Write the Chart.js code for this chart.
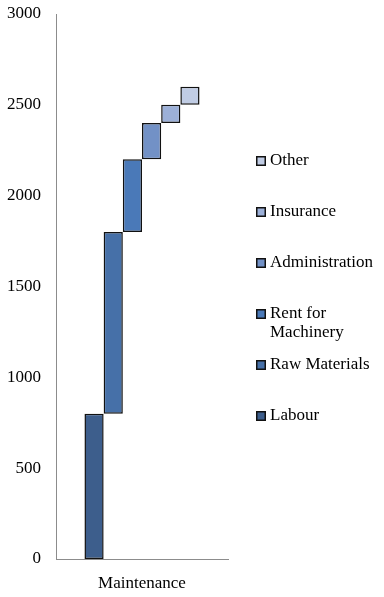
<!DOCTYPE html>
<html>
<head>
<meta charset="utf-8">
<script src="https://cdn.jsdelivr.net/npm/chart.js@4/dist/chart.umd.min.js"></script>
<style>
  html, body { margin: 0; padding: 0; background: #fff; }
  #wrap { width: 384px; height: 597px; }
</style>
</head>
<body>
<div id="wrap"><canvas id="costChart" width="384" height="597"></canvas></div>
<script>
// data
const categories = ['Maintenance'];
const seriesNames = ['Labour', 'Raw Materials', 'Rent for Machinery', 'Administration', 'Insurance', 'Other'];
const seriesStart = [0, 800, 1800, 2200, 2400, 2500];
const seriesEnd = [800, 1800, 2200, 2400, 2500, 2600];
const yTicks = [0, 500, 1000, 1500, 2000, 2500, 3000];

const colours = ['#3d5e8c', '#4670a8', '#4a79b8', '#7291c6', '#9cb0d8', '#c0cce4'];
const FONT = '"Liberation Serif", "Times New Roman", serif';
const FONT_SIZE = 17;

// legend on the right, top item = last series, long names wrap
const sideLegend = {
  id: 'sideLegend',
  afterDraw(chart) {
    const ctx = chart.ctx;
    const items = chart.data.datasets.map((d, i) => ({ label: d.label, color: d.backgroundColor })).reverse();
    const boxX = 256, textX = 270, maxW = 384 - textX - 2;
    let y = 161;
    ctx.save();
    ctx.font = FONT_SIZE + 'px ' + FONT;
    ctx.textBaseline = 'middle';
    ctx.fillStyle = '#000';
    items.forEach(item => {
      // wrap words
      const words = item.label.split(' ');
      const lines = [];
      let cur = '';
      words.forEach(w => {
        const test = cur ? cur + ' ' + w : w;
        if (ctx.measureText(test).width > maxW && cur) {
          lines.push(cur);
          cur = w;
        } else {
          cur = test;
        }
      });
      lines.push(cur);

      ctx.fillStyle = item.color;
      ctx.fillRect(boxX, y - 5, 10, 10);
      ctx.strokeStyle = '#111';
      ctx.lineWidth = 1.5;
      ctx.strokeRect(boxX + 0.75, y - 4.25, 8.5, 8.5);
      ctx.fillStyle = '#000';
      lines.forEach((ln, k) => ctx.fillText(ln, textX, y + k * 19));
      y += 51;
    });
    ctx.restore();
  }
};

const ctx = document.getElementById('costChart').getContext('2d');
new Chart(ctx, {
  type: 'bar',
  data: {
    labels: categories,
    datasets: seriesNames.map((name, i) => ({
      label: name,
      data: [[seriesStart[i], seriesEnd[i]]],
      backgroundColor: colours[i],
      borderColor: '#111',
      borderWidth: 1.5,
      borderSkipped: false,
      barPercentage: 1.0,
      categoryPercentage: 0.669
    }))
  },
  options: {
    responsive: false,
    animation: false,
    layout: { padding: { left: 0, right: 156, top: 14, bottom: 0 } },
    plugins: {
      legend: { display: false },
      tooltip: { enabled: false }
    },
    scales: {
      x: {
        grid: { display: false, drawTicks: false },
        border: { display: true, color: '#8c8c8c', width: 1 },
        ticks: {
          color: '#000',
          font: { family: FONT, size: FONT_SIZE },
          padding: 14
        },
        afterFit: axis => { axis.height = 38; axis.paddingLeft = 0; axis.paddingRight = 0; }
      },
      y: {
        min: 0,
        max: 3000,
        grid: { display: false, drawTicks: false },
        border: { display: true, color: '#8c8c8c', width: 1 },
        afterBuildTicks: axis => { axis.ticks = yTicks.map(v => ({ value: v })); },
        ticks: {
          color: '#000',
          font: { family: FONT, size: FONT_SIZE },
          padding: 15,
          callback: v => String(v)
        },
        afterFit: axis => { axis.width = 56; axis.paddingTop = 0; axis.paddingBottom = 0; }
      }
    }
  },
  plugins: [sideLegend]
});
</script>
</body>
</html>
